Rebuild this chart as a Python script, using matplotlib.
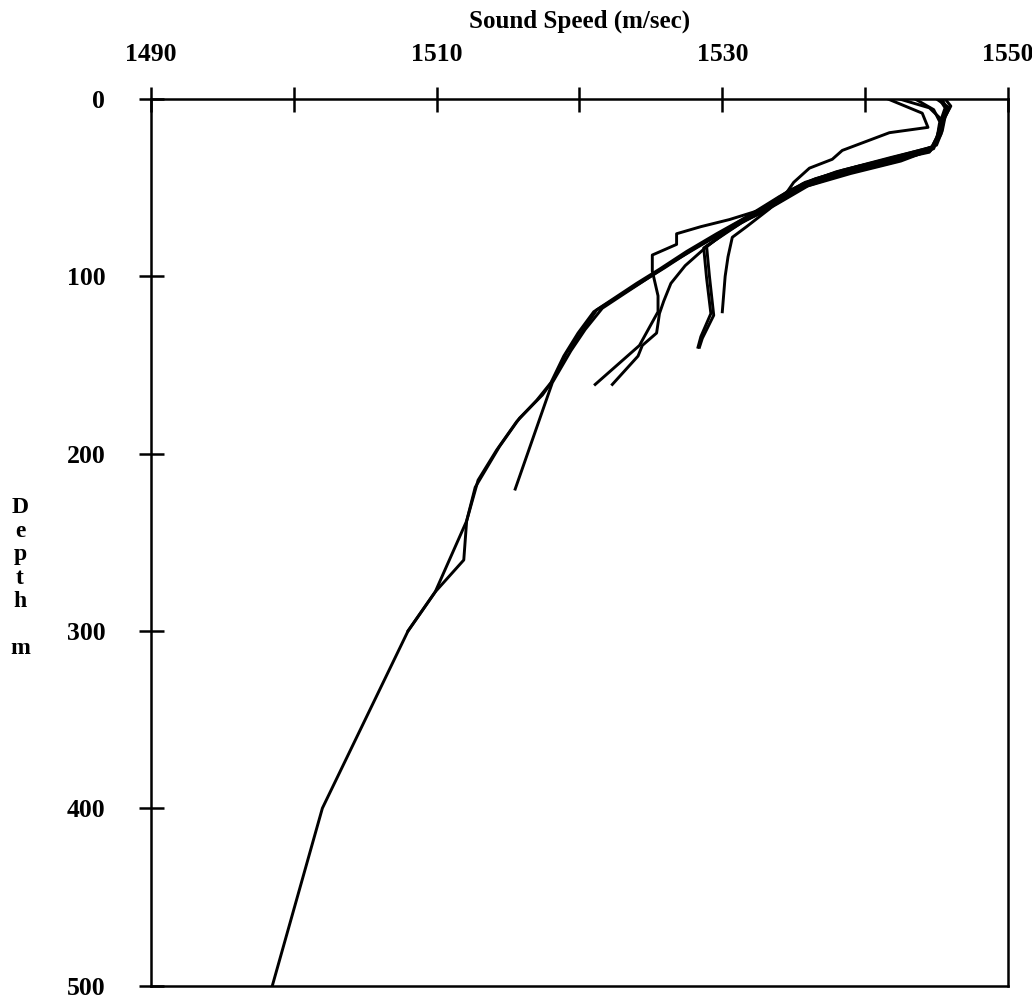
import matplotlib
matplotlib.use('Agg')
import matplotlib.pyplot as plt

# sound speed profiles (m/sec) against depth (m)
depth_a = [0, 5, 12, 20, 27, 33, 40, 47, 55, 65, 75, 85, 95, 103, 111, 119, 131, 143,
           158, 167, 180, 196, 219, 238, 278, 300, 400, 500]
speed_a = [1545.0, 1545.9, 1545.5, 1545.3, 1544.8, 1541.8, 1538.5, 1535.8, 1534.0, 1532.0,
           1530.0, 1527.9, 1526.0, 1524.4, 1522.8, 1521.2, 1520.2, 1519.1, 1518.2, 1517.4,
           1515.8, 1514.4, 1512.7, 1512.1, 1509.9, 1508.0, 1502.0, 1498.5]

depth_b = [0, 6, 14, 24, 30, 37, 44, 50, 58, 67, 76, 86, 96, 104, 112, 120, 132, 145,
           160, 170, 182, 198, 215, 238, 260, 278, 300]
speed_b = [1545.4, 1545.7, 1545.2, 1545.0, 1544.5, 1540.5, 1537.2, 1535.3, 1533.6, 1531.6,
           1529.6, 1527.5, 1525.6, 1524.0, 1522.5, 1521.0, 1519.9, 1518.9, 1518.0, 1517.0,
           1515.6, 1514.2, 1512.9, 1512.1, 1511.9, 1509.9, 1508.0]

depth_c = [0, 4, 10, 18, 26, 32, 38, 45, 52, 62, 72, 82, 92, 101, 110, 118, 130, 142, 160, 220]
speed_c = [1545.6, 1546.0, 1545.6, 1545.4, 1545.0, 1543.0, 1539.5, 1536.5, 1534.6, 1532.8,
           1530.8, 1528.6, 1526.5, 1524.8, 1523.1, 1521.6, 1520.4, 1519.4, 1518.1, 1515.5]

depth_d = [0, 6, 14, 22, 28, 35, 42, 48, 56, 63, 68, 72, 76, 82, 88, 97, 111, 120, 139, 161]
speed_d = [1543.5, 1544.8, 1545.3, 1545.0, 1544.6, 1542.0, 1538.5, 1536.0, 1534.4, 1532.5,
           1530.5, 1528.5, 1526.8, 1526.8, 1525.1, 1525.1, 1525.5, 1525.5, 1524.2, 1521.1]

depth_e = [0, 5, 12, 20, 27, 34, 41, 48, 56, 65, 74, 84, 94, 104, 114, 121, 132, 139, 145, 161]
speed_e = [1545.2, 1545.6, 1545.3, 1545.1, 1544.7, 1541.5, 1538.0, 1535.6, 1534.2, 1532.3,
           1530.4, 1528.8, 1527.4, 1526.4, 1525.9, 1525.6, 1525.4, 1524.4, 1524.1, 1522.3]

depth_f = [0, 5, 12, 20, 28, 35, 42, 49, 57, 64, 68, 75, 83, 100, 122, 135, 140]
speed_f = [1542.4, 1544.5, 1545.4, 1545.2, 1544.8, 1542.5, 1539.0, 1536.0, 1534.3, 1532.8,
           1531.7, 1530.3, 1528.9, 1529.1, 1529.4, 1528.6, 1528.4]

depth_g = [0, 6, 13, 21, 29, 36, 43, 50, 58, 65, 70, 77, 84, 101, 121, 134, 140]
speed_g = [1545.3, 1545.8, 1545.4, 1545.1, 1544.6, 1541.8, 1538.2, 1535.6, 1534.0, 1532.5,
           1531.3, 1530.0, 1528.7, 1528.9, 1529.2, 1528.5, 1528.3]

depth_h = [0, 8, 16, 19, 29, 34, 39, 47, 54, 62, 72, 78, 89, 100, 120]
speed_h = [1541.6, 1544.0, 1544.4, 1541.7, 1538.4, 1537.7, 1536.1, 1535.0, 1534.4, 1533.3,
           1531.7, 1530.7, 1530.4, 1530.2, 1530.0]

x_ticks = [1490, 1500, 1510, 1520, 1530, 1540, 1550]
x_labels = ['1490', '', '1510', '', '1530', '', '1550']
y_ticks = [0, 100, 200, 300, 400, 500]

plt.rcParams['font.family'] = ['Liberation Serif', 'DejaVu Serif']
plt.rcParams['font.weight'] = 'bold'

fig = plt.figure(figsize=(10.32, 9.99), dpi=100)
ax = fig.add_axes([0.1463, 0.0135, 0.8304, 0.8874])

profiles = [(speed_a, depth_a), (speed_b, depth_b), (speed_c, depth_c), (speed_d, depth_d),
            (speed_e, depth_e), (speed_f, depth_f), (speed_g, depth_g), (speed_h, depth_h)]
for s, d in profiles:
    ax.plot(s, d, color='black', lw=2.1)

ax.set_xlim(1490, 1550)
ax.set_ylim(500, 0)
ax.xaxis.tick_top()
ax.xaxis.set_label_position('top')
ax.set_xticks(x_ticks)
ax.set_xticklabels(x_labels)
ax.set_yticks(y_ticks)
ax.tick_params(direction='inout', length=18, width=1.8, labelsize=18.5, colors='black')
ax.tick_params(axis='x', pad=15)
ax.tick_params(axis='y', pad=24)
for sp in ax.spines.values():
    sp.set_linewidth(1.8)

ax.set_xlabel('Sound Speed (m/sec)', fontsize=18, fontweight='bold', labelpad=11)
fig.text(20 / 1032, 1 - 578 / 999, 'D\ne\np\nt\nh\n\nm', fontsize=17, fontweight='bold',
         ha='center', va='center', linespacing=1.15)

fig.savefig('out.png', dpi=100)
